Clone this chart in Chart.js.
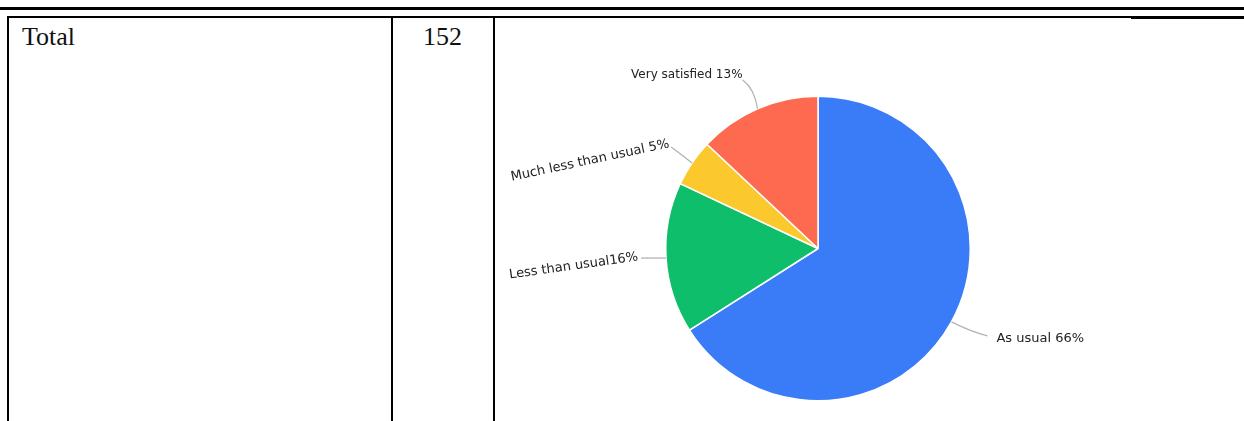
<!DOCTYPE html>
<html>
<head>
<meta charset="utf-8">
<script src="https://cdn.jsdelivr.net/npm/chart.js@4/dist/chart.umd.min.js"></script>
<style>
  html, body { margin: 0; padding: 0; background: #fff; }
  body { width: 1244px; height: 421px; position: relative; overflow: hidden; }
  .rule { position: absolute; background: #000; }
  .cell-text { position: absolute; font-family: "Liberation Serif", "DejaVu Serif", serif; font-size: 26px; line-height: 26px; color: #111; }
  #chartBox { position: absolute; left: 496px; top: 20px; width: 748px; height: 401px; }
</style>
</head>
<body>
<!-- table rules -->
<div class="rule" style="left:0;top:7px;width:1244px;height:3px"></div>
<div class="rule" style="left:7px;top:16px;width:1237px;height:1.5px"></div>
<div class="rule" style="left:1131px;top:17.5px;width:113px;height:1px"></div>
<div class="rule" style="left:7px;top:17px;width:2px;height:404px"></div>
<div class="rule" style="left:391px;top:17px;width:2px;height:404px"></div>
<div class="rule" style="left:493px;top:17px;width:2px;height:404px"></div>

<div class="cell-text" style="left:22px;top:24px">Total</div>
<div class="cell-text" style="left:423px;top:24px">152</div>

<div id="chartBox"><canvas id="pieCanvas" width="748" height="401"></canvas></div>

<script>
// data
var categories = ["As usual", "Less than usual", "Much less than usual", "Very satisfied"];
var percentValues = [66, 16, 5, 13];
var sliceLabels = ["As usual 66%", "Less than usual16%", "Much less than usual 5%", "Very satisfied 13%"];
var sliceColors = ["#3a7bf7", "#0fbe6b", "#fbc92e", "#fd6a50"];

// where each outside label sits, relative to the slice's outer edge
var labelLayout = [
    {end: [36, 14], ctrl: [20, 10], text: [9, 3], align: "left", rot: 0, size: 13},
    {end: [-25, 0], ctrl: [-12, 0], text: [-3, -1], align: "right", rot: -8, size: 13},
    {end: [-21, -16], ctrl: [-10, -8], text: [-2, -3], align: "right", rot: -12, size: 13},
    {end: [-15, -29], ctrl: [-3, -20], text: [0, -5], align: "right", rot: 0, size: 12}
];

var outsideLabels = {
    id: "outsideLabels",
    afterDatasetsDraw(chart){
        let ctx = chart.ctx;
        let meta = chart.getDatasetMeta(0);
        meta.data.forEach((arc, i) => {
            let p = arc.getProps(["x", "y", "startAngle", "endAngle", "outerRadius"], true);
            let mid = (p.startAngle + p.endAngle) / 2;
            let ex = p.x + Math.cos(mid) * p.outerRadius;
            let ey = p.y + Math.sin(mid) * p.outerRadius;
            let lay = labelLayout[i];
            let lx = ex + lay.end[0], ly = ey + lay.end[1];
            ctx.save();
            ctx.strokeStyle = "#b3b3b3";
            ctx.lineWidth = 1.3;
            ctx.beginPath();
            ctx.moveTo(ex, ey);
            ctx.quadraticCurveTo(ex + lay.ctrl[0], ey + lay.ctrl[1], lx, ly);
            ctx.stroke();
            ctx.translate(lx + lay.text[0], ly + lay.text[1]);
            ctx.rotate(lay.rot * Math.PI / 180);
            ctx.font = lay.size + "px 'DejaVu Sans', Verdana, sans-serif";
            ctx.fillStyle = "#222";
            ctx.textAlign = lay.align;
            ctx.textBaseline = "middle";
            ctx.fillText(sliceLabels[i], 0, 0);
            ctx.restore();
        });
    }
};

var currentChart = new Chart(document.getElementById("pieCanvas"), {
    type: "pie",
    data: {
        labels: categories,
        datasets: [{
            data: percentValues,
            backgroundColor: sliceColors,
            borderColor: "#ffffff",
            borderWidth: 1.5,
            hoverOffset: 0
        }]
    },
    options: {
        responsive: false,
        animation: false,
        layout: { padding: { left: 169, right: 273, top: 75, bottom: 19 } },
        plugins: {
            legend: { display: false },
            tooltip: { enabled: false }
        }
    },
    plugins: [outsideLabels]
});
</script>
</body>
</html>
